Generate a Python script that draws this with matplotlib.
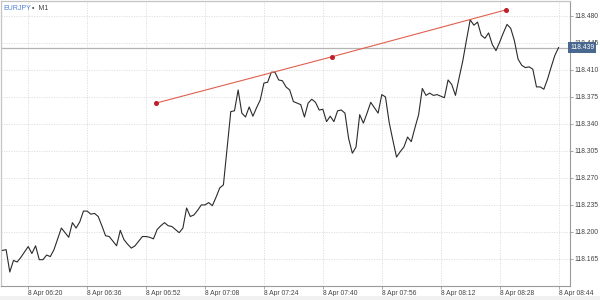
import numpy as np
import pandas as pd
import matplotlib
matplotlib.use("Agg")
import matplotlib.pyplot as plt
import matplotlib.dates as mdates
from matplotlib.patches import Rectangle

plt.rcParams['font.family'] = ['Liberation Sans', 'DejaVu Sans']

# EURJPY M1 closes, 8 Apr 06:13 .. 08:44
start = '2019-04-08 06:13'
prices = [
    118.176, 118.177, 118.148, 118.163, 118.161, 118.167, 118.174, 118.181, 118.172, 118.182,
    118.164, 118.164, 118.170, 118.168, 118.177, 118.191, 118.205, 118.199, 118.193, 118.212,
    118.205, 118.213, 118.227, 118.227, 118.223, 118.224, 118.220, 118.208, 118.195, 118.194,
    118.188, 118.182, 118.202, 118.190, 118.184, 118.179, 118.182, 118.188, 118.194, 118.194,
    118.193, 118.191, 118.203, 118.208, 118.212, 118.208, 118.207, 118.203, 118.199, 118.205,
    118.231, 118.220, 118.222, 118.228, 118.235, 118.235, 118.238, 118.234, 118.245, 118.257,
    118.261, 118.309, 118.356, 118.357, 118.384, 118.354, 118.349, 118.362, 118.350, 118.361,
    118.371, 118.393, 118.394, 118.407, 118.407, 118.397, 118.396, 118.388, 118.384, 118.369,
    118.367, 118.365, 118.349, 118.367, 118.372, 118.368, 118.358, 118.359, 118.343, 118.350,
    118.343, 118.357, 118.358, 118.354, 118.321, 118.302, 118.310, 118.352, 118.341, 118.354,
    118.368, 118.361, 118.354, 118.378, 118.375, 118.342, 118.319, 118.297, 118.304, 118.310,
    118.323, 118.317, 118.335, 118.352, 118.386, 118.377, 118.380, 118.377, 118.378, 118.376,
    118.374, 118.397, 118.391, 118.377, 118.400, 118.422, 118.449, 118.475, 118.468, 118.472,
    118.455, 118.451, 118.458, 118.443, 118.435, 118.446, 118.458, 118.469, 118.464, 118.448,
    118.424, 118.416, 118.413, 118.414, 118.411, 118.388, 118.388, 118.385, 118.398, 118.414,
    118.429, 118.439,
]
times = pd.date_range(start, periods=len(prices), freq='min')

# trend line drawn on the chart
trend_times = pd.to_datetime(['2019-04-08 06:54:42', '2019-04-08 07:42:24', '2019-04-08 08:29:48'])
trend_prices = [118.367, 118.427, 118.488]

xtick_labels = ['06:20', '06:36', '06:52', '07:08', '07:24', '07:40', '07:56', '08:12', '08:28', '08:44']
ytick_values = [118.165, 118.200, 118.235, 118.270, 118.305, 118.340, 118.375, 118.410, 118.445, 118.480]
last_price = prices[-1]

fig = plt.figure(figsize=(6, 3), dpi=100)
fig.patches.append(Rectangle((0, 0), 1, 0.015, transform=fig.transFigure,
                             facecolor='#f1f1f1', edgecolor='none', zorder=0))
ax = fig.add_axes([0.002, 0.047, 0.948, 0.95])

ax.plot(times, prices, color='#2b2b2b', linewidth=0.8, zorder=3)
ax.plot(trend_times, trend_prices, color='#e0604f', linewidth=0.8, zorder=4)
ax.plot(trend_times, trend_prices, linestyle='none', marker='o', markersize=2.6,
        color='#c0202a', zorder=5)
ax.axhline(last_price, color='#b4b4b4', linewidth=0.9, zorder=2)

t0 = times[0]
ax.set_xlim(t0 - pd.Timedelta(seconds=20), t0 + pd.Timedelta(minutes=154.1))
ax.set_ylim(118.130, 118.4995)

xticks = pd.to_datetime(['2019-04-08 ' + t for t in xtick_labels])
ax.set_xticks(mdates.date2num(xticks))
ax.set_xticklabels(['8 Apr ' + t for t in xtick_labels], ha='left')
ax.yaxis.tick_right()
ax.set_yticks(ytick_values)
ax.set_yticklabels([f'{v:.3f}' for v in ytick_values])

ax.tick_params(axis='x', direction='out', length=2.5, width=0.6, color='#999999',
               labelsize=4.9, labelcolor='#444444', pad=0.8)
ax.tick_params(axis='y', direction='out', length=2.5, width=0.6, color='#999999',
               labelsize=4.9, labelcolor='#444444', pad=0.8)
ax.grid(True, color='#dcdcdc', linestyle=(0, (1.5, 1.5)), linewidth=0.6)
ax.set_axisbelow(True)

for side in ['top', 'left']:
    ax.spines[side].set_color('#c4c4c4')
    ax.spines[side].set_linewidth(0.9)
for side in ['right', 'bottom']:
    ax.spines[side].set_color('#9a9a9a')
    ax.spines[side].set_linewidth(0.8)

# current price label
ax.text(1.0, last_price, f'{last_price:.3f}', transform=ax.get_yaxis_transform(),
        ha='left', va='center', fontsize=4.9, color='white', zorder=10, clip_on=False,
        bbox=dict(boxstyle='square,pad=0.3', facecolor='#4a6790', edgecolor='none'))

# symbol caption
ax.text(0.004, 0.985, 'EURJPY', transform=ax.transAxes, ha='left', va='top',
        fontsize=5.0, color='#4d82d6', zorder=10)
ax.text(0.055, 0.985, '•  M1', transform=ax.transAxes, ha='left', va='top',
        fontsize=5.0, color='#444444', zorder=10)

fig.savefig('out.png', dpi=100)
